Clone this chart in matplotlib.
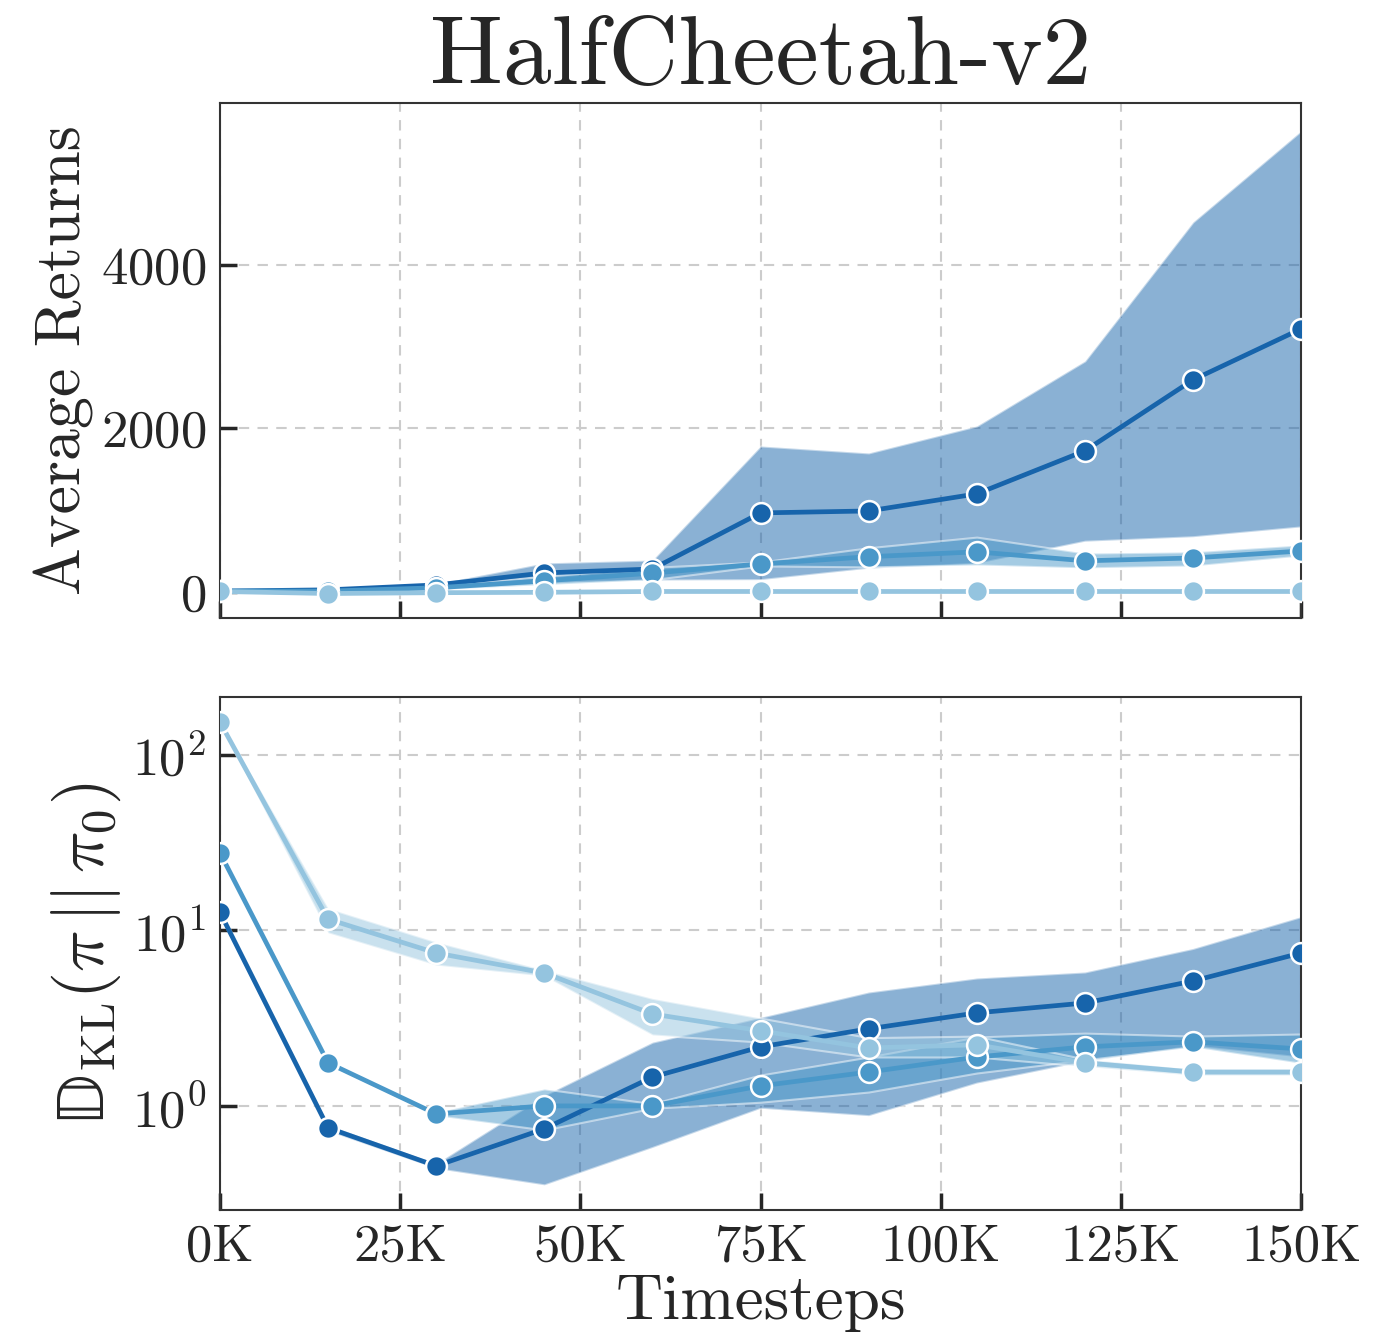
import numpy as np
import matplotlib
matplotlib.use("Agg")
import matplotlib.pyplot as plt
from matplotlib.ticker import FuncFormatter, FixedLocator, NullLocator

plt.rcParams['font.family'] = 'serif'
plt.rcParams['font.serif'] = ['cmr10', 'DejaVu Serif']
plt.rcParams['mathtext.fontset'] = 'cm'
plt.rcParams['axes.formatter.use_mathtext'] = True
plt.rcParams['text.color'] = '#262626'
plt.rcParams['axes.labelcolor'] = '#262626'
plt.rcParams['xtick.color'] = '#262626'
plt.rcParams['ytick.color'] = '#262626'

# data
timesteps = [0, 15000, 30000, 45000, 60000, 75000, 90000, 105000, 120000, 135000, 150000]

ret_dark = [10, 25, 85, 232, 280, 966, 990, 1199, 1725, 2593, 3217]
ret_dark_lo = [0, 10, 50, 120, 145, 150, 290, 350, 620, 675, 795]
ret_dark_hi = [20, 40, 100, 355, 390, 1785, 1700, 2030, 2825, 4525, 5640]

ret_med = [10, 10, 50, 135, 230, 342, 430, 490, 380, 415, 500]
ret_med_lo = [0, 0, 30, 90, 150, 318, 306, 330, 294, 318, 440]
ret_med_hi = [20, 25, 70, 190, 300, 365, 540, 670, 475, 490, 575]

ret_light = [5, -20, -10, -5, 5, 5, 5, 5, 5, 5, 5]
ret_light_lo = [-10, -35, -25, -20, -10, -10, -10, -10, -10, -10, -10]
ret_light_hi = [20, -5, 5, 10, 20, 20, 20, 20, 20, 20, 20]

kl_dark = [12.7, 0.75, 0.455, 0.74, 1.46, 2.17, 2.75, 3.39, 3.86, 5.15, 7.44]
kl_dark_lo = [12.2, 0.72, 0.44, 0.355, 0.58, 0.97, 0.88, 1.35, 1.8, 2.2, 1.9]
kl_dark_hi = [13.2, 0.78, 0.47, 1.15, 2.31, 3.2, 4.46, 5.36, 5.8, 7.9, 12.0]

kl_med = [27.7, 1.76, 0.90, 1.0, 1.0, 1.30, 1.56, 1.90, 2.17, 2.32, 2.11]
kl_med_lo = [27.0, 1.72, 0.88, 0.73, 0.97, 1.05, 1.2, 1.54, 1.83, 2.17, 1.75]
kl_med_hi = [28.4, 1.80, 0.92, 1.25, 1.03, 1.5, 1.9, 2.47, 2.6, 2.5, 2.57]

kl_light = [154, 11.6, 7.44, 5.72, 3.34, 2.68, 2.14, 2.23, 1.76, 1.56, 1.56]
kl_light_lo = [150, 9.7, 6.35, 5.5, 2.54, 2.31, 1.9, 1.9, 1.68, 1.5, 1.5]
kl_light_hi = [158, 13.4, 8.6, 5.95, 4.1, 3.17, 2.45, 2.5, 1.85, 1.62, 1.62]

colors = plt.cm.Blues([0.8, 0.6, 0.4])

fig = plt.figure(figsize=(13.73, 13.43), dpi=100)
ax1 = fig.add_axes([0.1602, 0.5398, 0.7874, 0.3835])
ax2 = fig.add_axes([0.1602, 0.0990, 0.7874, 0.3820])

top_series = [(ret_dark, ret_dark_lo, ret_dark_hi),
              (ret_med, ret_med_lo, ret_med_hi),
              (ret_light, ret_light_lo, ret_light_hi)]
bot_series = [(kl_dark, kl_dark_lo, kl_dark_hi),
              (kl_med, kl_med_lo, kl_med_hi),
              (kl_light, kl_light_lo, kl_light_hi)]

for ax, series in [(ax1, top_series), (ax2, bot_series)]:
    for (y, lo, hi), c in zip(series, colors):
        ax.fill_between(timesteps, lo, hi, color=c, alpha=0.5,
                        edgecolor='white', linewidth=1.5, zorder=2)
    for (y, lo, hi), c in zip(series, colors):
        ax.plot(timesteps, y, color=c, linewidth=3.4, marker='o', markersize=15,
                markeredgecolor='white', markeredgewidth=1.8, zorder=3)

    ax.set_xlim(0, 150000)
    ax.xaxis.set_major_locator(FixedLocator([0, 25000, 50000, 75000, 100000, 125000, 150000]))
    ax.grid(True, linestyle=(0, (5, 4)), color='#cccccc', linewidth=1.5, zorder=1)
    ax.set_axisbelow(True)
    ax.tick_params(direction='in', length=12, width=2.5, labelsize=38,
                   top=False, right=False, pad=10)
    for sp in ax.spines.values():
        sp.set_color('#333333')
        sp.set_linewidth(1.5)

ax1.set_ylim(-320, 5980)
ax1.yaxis.set_major_locator(FixedLocator([0, 2000, 4000]))
ax1.tick_params(labelbottom=False)
ax1.set_ylabel('Average Returns', fontsize=46, labelpad=5)
ax1.set_title('HalfCheetah-v2', fontsize=70, pad=8)

ax2.set_yscale('log')
ax2.set_ylim(0.255, 214)
ax2.yaxis.set_minor_locator(NullLocator())
ax2.xaxis.set_major_formatter(FuncFormatter(lambda v, p: '%dK' % int(round(v / 1000))))
ax2.set_ylabel(r'$\mathrm{\mathbb{D}}_{\mathrm{KL}}(\pi\,||\,\pi_0)$', fontsize=50, labelpad=6)
ax2.set_xlabel('Timesteps', fontsize=47, labelpad=2)

fig.savefig('out.png', dpi=100)
